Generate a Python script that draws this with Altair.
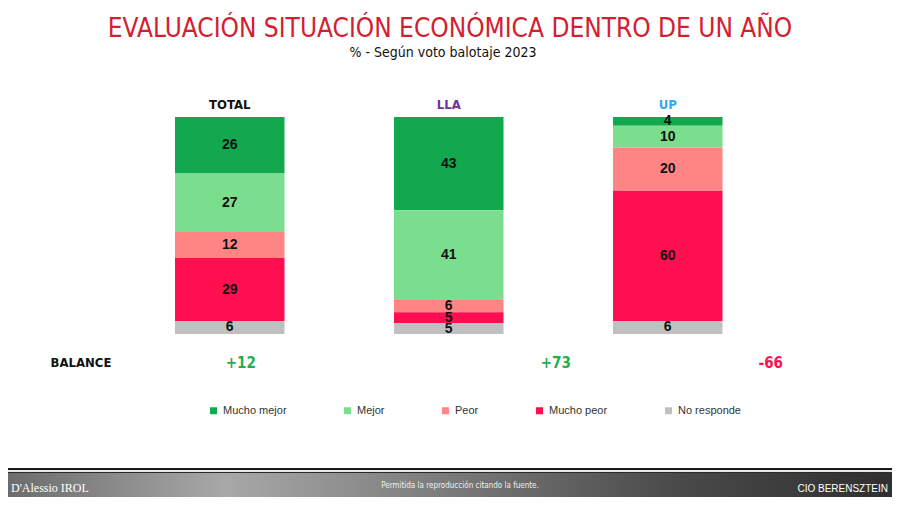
import altair as alt
import pandas as pd

# ---- data ----
grupos = ["TOTAL", "LLA", "UP"]
categorias = ["Mucho mejor", "Mejor", "Peor", "Mucho peor", "No responde"]
mucho_mejor = [26, 43, 4]
mejor = [27, 41, 10]
peor = [12, 6, 20]
mucho_peor = [29, 5, 60]
no_responde = [6, 5, 6]
balance = ["+12", "+73", "-66"]
balance_color = ["#1FAF4E", "#1FAF4E", "#FF1050"]
colores = ["#12A84E", "#7BDE8E", "#FF8585", "#FF0F4F", "#C0C0C0"]
header_color = ["#111111", "#7030A0", "#33A8EE"]

titulo = "EVALUACIÓN SITUACIÓN ECONÓMICA DENTRO DE UN AÑO"
subtitulo = "% - Según voto balotaje 2023"

NARROW = "Liberation Sans Narrow, Arial Narrow, DejaVu Sans Condensed, Liberation Sans"
SANS = "Liberation Sans, Arial, sans-serif"

series = [mucho_mejor, mejor, peor, mucho_peor, no_responde]
rows = []
for ci, (cat, vals) in enumerate(zip(categorias, series)):
    for g, v in zip(grupos, vals):
        rows.append({"grupo": g, "categoria": cat, "valor": v, "orden": len(categorias) - 1 - ci})
df = pd.DataFrame(rows)

hdr = pd.DataFrame({"grupo": grupos, "color": header_color})
bal = pd.DataFrame({"grupo": grupos, "txt": balance, "color": balance_color})
one = pd.DataFrame({"a": [0]})

xscale = alt.Scale(domain=grupos, range=[167, 714.5], paddingInner=0.5, paddingOuter=0)
yscale = alt.Scale(domain=[0, 100], range=[326, 109])
X = alt.X("grupo:N", scale=xscale, axis=None)

base = alt.Chart(df).transform_stack(
    stack="valor", as_=["y0", "y1"], groupby=["grupo"], sort=[alt.SortField("orden", order="ascending")]
).transform_calculate(mid="(datum.y0 + datum.y1) / 2")

bars = base.mark_rect().encode(
    x=X,
    y=alt.Y("y0:Q", scale=yscale, axis=None),
    y2="y1:Q",
    color=alt.Color(
        "categoria:N",
        scale=alt.Scale(domain=categorias, range=colores),
        legend=alt.Legend(
            title=None, orient="none", legendX=200, legendY=397, direction="horizontal",
            symbolType="square", symbolSize=49, symbolStrokeWidth=0, labelFontSize=11,
            labelFont=SANS, labelColor="#333333", columnPadding=55, labelOffset=4, padding=0,
        ),
    ),
)

labels = base.mark_text(font=SANS, fontSize=14, fontWeight="bold", color="#111111", baseline="middle").encode(
    x=X,
    y=alt.Y("mid:Q", scale=yscale, axis=None),
    text="valor:Q",
)

headers = alt.Chart(hdr).mark_text(font=NARROW, fontSize=13, fontWeight="bold", baseline="alphabetic").encode(
    x=X, y=alt.value(101), text="grupo:N", color=alt.Color("color:N", scale=None)
)

bal_layers = []
for g, dx in zip(grupos, [11, 107, 103]):
    bal_layers.append(
        alt.Chart(bal).transform_filter(alt.datum.grupo == g).mark_text(
            font=NARROW, fontSize=15, fontWeight="bold", baseline="middle", dx=dx
        ).encode(x=X, y=alt.value(355), text="txt:N", color=alt.Color("color:N", scale=None))
    )

balance_lbl = alt.Chart(one).mark_text(
    text="BALANCE", font=NARROW, fontSize=13, fontWeight="bold", color="#111111", baseline="middle"
).encode(x=alt.value(73), y=alt.value(355))

title_t = alt.Chart(one).mark_text(
    text=titulo, font=NARROW, fontSize=26, color="#D32030", baseline="alphabetic"
).encode(x=alt.value(442), y=alt.value(29))

sub_t = alt.Chart(one).mark_text(
    text=subtitulo, font=NARROW, fontSize=14, color="#111111", baseline="alphabetic"
).encode(x=alt.value(435), y=alt.value(49))

# ---- footer decoration ----
grad = alt.LinearGradient(
    gradient="linear", x1=0, x2=1, y1=0, y2=0,
    stops=[
        alt.GradientStop(offset=0, color="#6a6a6a"),
        alt.GradientStop(offset=0.25, color="#a8a8a8"),
        alt.GradientStop(offset=0.5, color="#7a7a7a"),
        alt.GradientStop(offset=0.75, color="#4a4a4a"),
        alt.GradientStop(offset=1, color="#2e2e2e"),
    ],
)
foot_band = alt.Chart(one).mark_rect(color=grad).encode(
    x=alt.value(-8), x2=alt.value(892), y=alt.value(465), y2=alt.value(489)
)
foot_line1 = alt.Chart(one).mark_rect(color="#1a1a1a").encode(
    x=alt.value(-8), x2=alt.value(892), y=alt.value(460), y2=alt.value(462)
)
foot_line2 = alt.Chart(one).mark_rect(color="#e8e8e8").encode(
    x=alt.value(-8), x2=alt.value(892), y=alt.value(462), y2=alt.value(464)
)
foot_line3 = alt.Chart(one).mark_rect(color="#2a2a2a").encode(
    x=alt.value(-8), x2=alt.value(892), y=alt.value(464), y2=alt.value(466)
)
foot_left = alt.Chart(one).mark_text(
    text="D'Alessio IROL", font="Liberation Serif", fontSize=12, color="#ffffff", align="left", baseline="middle"
).encode(x=alt.value(3), y=alt.value(480))
foot_mid = alt.Chart(one).mark_text(
    text="Permitida la reproducción citando la fuente.", font=NARROW, fontSize=8, color="#f0f0f0", baseline="middle"
).encode(x=alt.value(452), y=alt.value(478))
foot_right = alt.Chart(one).mark_text(
    text="CIO BERENSZTEIN", font=SANS, fontSize=10, color="#ffffff", align="right", baseline="middle"
).encode(x=alt.value(880), y=alt.value(481))

chart = alt.layer(
    bars, labels, headers, *bal_layers, balance_lbl, title_t, sub_t,
    foot_line1, foot_line2, foot_line3, foot_band, foot_left, foot_mid, foot_right,
).properties(
    width=884, height=489, autosize=alt.AutoSizeParams(type="none"), padding=0, background="#ffffff"
).configure_view(strokeWidth=0, strokeOpacity=0)

chart.save("out.html", embed_options={"renderer": "svg", "actions": False})
